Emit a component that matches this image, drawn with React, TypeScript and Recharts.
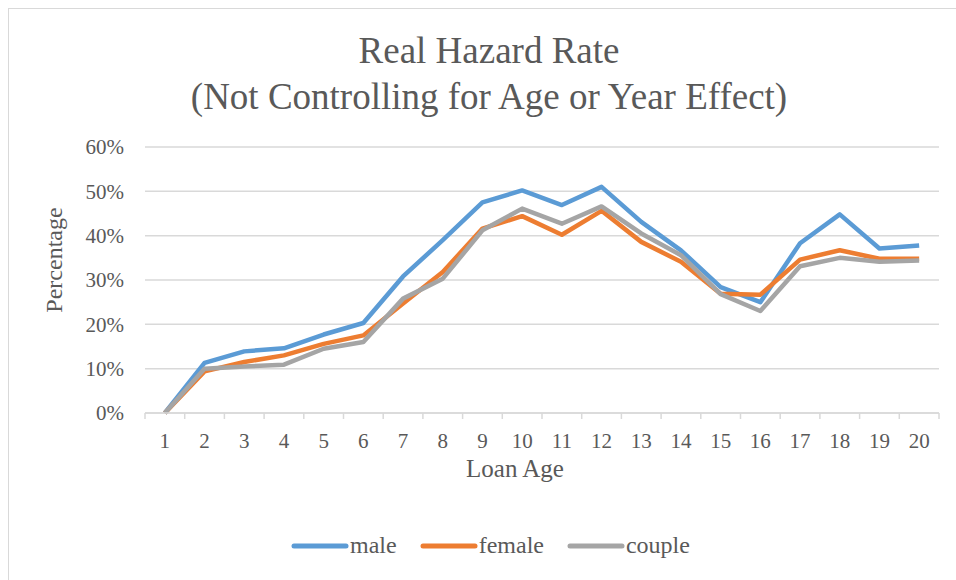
import React from 'react';
import { LineChart, Line, XAxis, YAxis, CartesianGrid, Legend, Label } from 'recharts';

// Loan age categories (years since origination)
const loanAges = ['1', '2', '3', '4', '5', '6', '7', '8', '9', '10', '11', '12', '13', '14', '15', '16', '17', '18', '19', '20'];

// hazard rate in percent
const male = [0, 11.3, 13.9, 14.6, 17.7, 20.3, 30.8, 39.0, 47.5, 50.2, 46.9, 51.0, 43.1, 36.7, 28.4, 25.0, 38.3, 44.8, 37.1, 37.8];
const female = [0, 9.4, 11.5, 13.0, 15.6, 17.5, 24.7, 31.8, 41.6, 44.4, 40.2, 45.6, 38.6, 34.1, 26.9, 26.7, 34.6, 36.7, 34.8, 34.8];
const couple = [0, 10.0, 10.5, 10.9, 14.5, 16.0, 25.8, 30.3, 41.2, 46.1, 42.7, 46.6, 40.5, 35.6, 26.8, 23.0, 33.1, 35.0, 34.1, 34.4];

const seriesOrder = ['male', 'female', 'couple'];
const yTicks = [0, 10, 20, 30, 40, 50, 60];

const data = loanAges.map((age, i) => ({
  age,
  male: male[i],
  female: female[i],
  couple: couple[i],
}));

const FONT = '"Liberation Serif", "Times New Roman", serif';
const TEXT = '#595959';
const GRID = '#d9d9d9';
const HALF_BAND = 19.85;

// Excel style ticks: marks sit between categories, not under them
const BetweenTick = (props: any) => {
  const { x, y, payload, index, visibleTicksCount } = props;
  const last = index === visibleTicksCount - 1;
  return (
    <g>
      <line x1={x - HALF_BAND} y1={y - 8} x2={x - HALF_BAND} y2={y - 2} stroke={GRID} strokeWidth={1.5} />
      {last && <line x1={x + HALF_BAND} y1={y - 8} x2={x + HALF_BAND} y2={y - 2} stroke={GRID} strokeWidth={1.5} />}
      <text x={x} y={y + 27} textAnchor="middle" fill={TEXT} fontSize={21} fontFamily={FONT}>
        {payload.value}
      </text>
    </g>
  );
};

const LegendContent = (props: any) => {
  const items = [...(props.payload || [])].sort(
    (a: any, b: any) => seriesOrder.indexOf(a.value) - seriesOrder.indexOf(b.value)
  );
  return (
    <div style={{ display: 'flex', justifyContent: 'center', alignItems: 'center', paddingLeft: 48 }}>
      {items.map((entry: any) => (
        <div key={entry.value} style={{ display: 'flex', alignItems: 'center', marginRight: 23 }}>
          <svg width={58} height={10}>
            <line x1={3} y1={5} x2={55} y2={5} stroke={entry.color} strokeWidth={5} strokeLinecap="round" />
          </svg>
          <span style={{ fontFamily: FONT, fontSize: 24, color: TEXT, marginLeft: 1 }}>{entry.value}</span>
        </div>
      ))}
    </div>
  );
};

export default function App() {
  return (
    <div style={{ position: 'absolute', left: 0, top: 0, width: 956, height: 580, overflow: 'hidden', background: '#fff' }}>
      <div style={{ position: 'absolute', left: 8, top: 8, width: 1000, height: 700, borderTop: `1.5px solid ${GRID}`, borderLeft: `1.5px solid ${GRID}` }} />
      <div
        style={{
          position: 'absolute',
          left: 0,
          top: 28,
          width: 956,
          paddingLeft: 22,
          boxSizing: 'border-box',
          textAlign: 'center',
          fontFamily: FONT,
          fontSize: 37,
          lineHeight: '46px',
          color: TEXT,
        }}
      >
        <div>Real Hazard Rate</div>
        <div>(Not Controlling for Age or Year Effect)</div>
      </div>
      <LineChart width={956} height={580} data={data} margin={{ top: 147, right: 17, left: 0, bottom: 101 }}>
        <CartesianGrid vertical={false} stroke={GRID} strokeWidth={1.5} />
        <XAxis
          dataKey="age"
          height={66}
          padding={{ left: HALF_BAND, right: HALF_BAND }}
          axisLine={{ stroke: GRID, strokeWidth: 1.5 }}
          tickLine={false}
          tick={<BetweenTick />}
          interval={0}
        >
          <Label
            content={(p: any) => {
              const vb = p.viewBox;
              return (
                <text x={vb.x + vb.width / 2 - 27} y={vb.y + 64} textAnchor="middle" fill={TEXT} fontSize={25} fontFamily={FONT}>
                  Loan Age
                </text>
              );
            }}
          />
        </XAxis>
        <YAxis
          width={145}
          domain={[0, 60]}
          ticks={yTicks}
          tickFormatter={(v: number) => `${v}%`}
          axisLine={false}
          tickLine={false}
          tickSize={0}
          tickMargin={21}
          tick={{ fill: TEXT, fontSize: 21, fontFamily: FONT }}
        >
          <Label
            content={(p: any) => {
              const vb = p.viewBox;
              const cx = vb.x + 62;
              const cy = vb.y + vb.height / 2 - 20;
              return (
                <text x={cx} y={cy} transform={`rotate(-90, ${cx}, ${cy})`} textAnchor="middle" fill={TEXT} fontSize={24} fontFamily={FONT}>
                  Percentage
                </text>
              );
            }}
          />
        </YAxis>
        <Line dataKey="male" name="male" stroke="#5b9bd5" strokeWidth={4.5} dot={false} isAnimationActive={false} strokeLinejoin="round" />
        <Line dataKey="female" name="female" stroke="#ed7d31" strokeWidth={4.5} dot={false} isAnimationActive={false} strokeLinejoin="round" />
        <Line dataKey="couple" name="couple" stroke="#a5a5a5" strokeWidth={4.5} dot={false} isAnimationActive={false} strokeLinejoin="round" />
        <Legend
          layout="horizontal"
          align="center"
          verticalAlign="middle"
          content={<LegendContent />}
          wrapperStyle={{ top: 532, left: 0, width: 956, height: 30 }}
        />
      </LineChart>
    </div>
  );
}
